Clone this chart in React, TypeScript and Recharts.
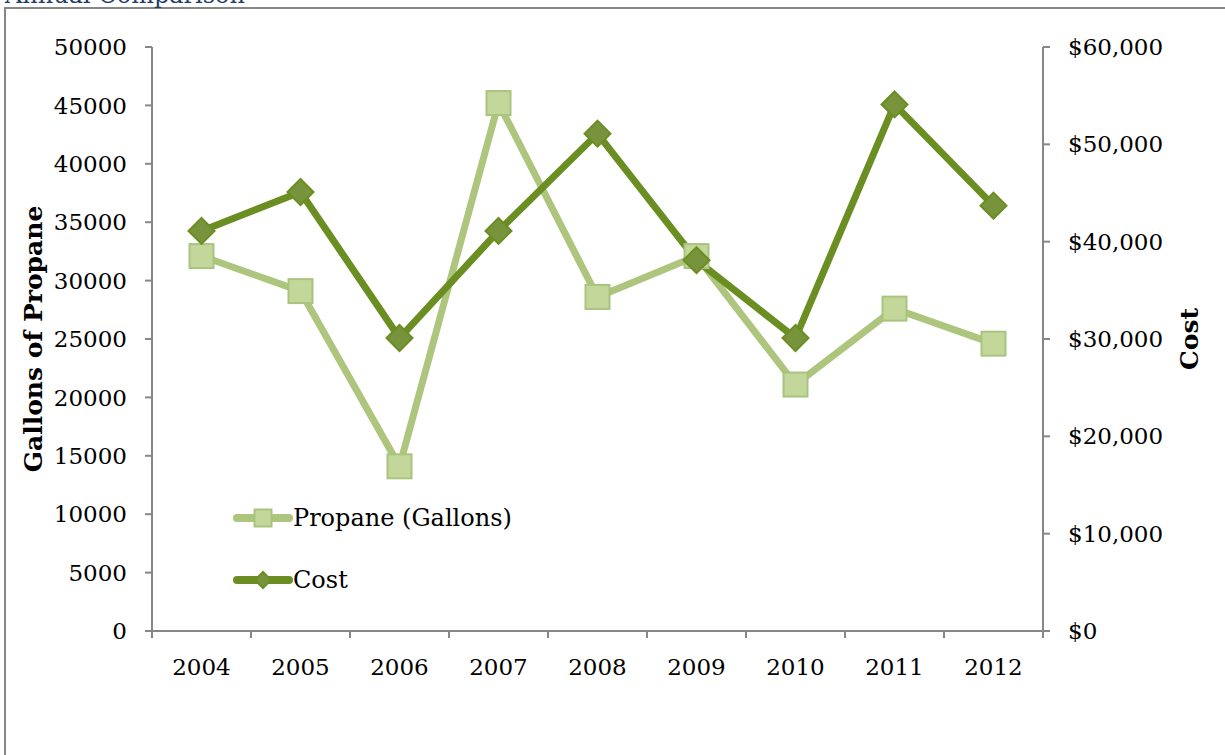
import { LineChart, Line, XAxis, YAxis, Legend } from 'recharts';

const years = ['2004', '2005', '2006', '2007', '2008', '2009', '2010', '2011', '2012'];
const propaneGallons = [32100, 29100, 14100, 45200, 28600, 32100, 21100, 27600, 24600];
const costDollars = [41100, 45100, 30100, 41100, 51100, 38100, 30100, 54100, 43700];
const gallonTicks = [0, 5000, 10000, 15000, 20000, 25000, 30000, 35000, 40000, 45000, 50000];
const costTicks = [0, 10000, 20000, 30000, 40000, 50000, 60000];
const seriesOrder = ['propane', 'cost'];

const rows = years.map((year, i) => ({
  year,
  pos: i + 0.5,
  propane: propaneGallons[i],
  cost: costDollars[i],
}));
// category boundaries (tick marks) and centres (labels)
const xTicks = years.flatMap((_, i) => [i, i + 0.5]).concat(years.length);

const FONT = '"DejaVu Serif", serif';
const AXIS = '#878787';
const LIGHT_LINE = '#adc57c';
const LIGHT_FILL = '#c4d79b';
const LIGHT_EDGE = '#a9c47f';
const DARK_LINE = '#6b8e23';
const DARK_FILL = '#77933c';

const tickStyle = { fontFamily: FONT, fontSize: 23, fill: '#000' };
const titleStyle = { fontFamily: FONT, fontSize: 25, fontWeight: 'bold', fill: '#000' };

function Square({ cx, cy, size }: { cx: number; cy: number; size: number }) {
  const h = size / 2;
  return <rect x={cx - h} y={cy - h} width={size} height={size} fill={LIGHT_FILL} stroke={LIGHT_EDGE} strokeWidth={2} />;
}

function Diamond({ cx, cy, size }: { cx: number; cy: number; size: number }) {
  const h = size / 2;
  return (
    <polygon
      points={`${cx},${cy - h} ${cx + h},${cy} ${cx},${cy + h} ${cx - h},${cy}`}
      fill={DARK_FILL}
      stroke={DARK_LINE}
      strokeWidth={2}
    />
  );
}

function YearTick({ x, y, payload }: any) {
  const v = payload.value as number;
  if (Number.isInteger(v)) {
    return <line x1={x} x2={x} y1={y} y2={y + 7} stroke={AXIS} strokeWidth={2} />;
  }
  return (
    <text x={x} y={y + 44} textAnchor="middle" style={tickStyle}>
      {years[Math.floor(v)]}
    </text>
  );
}

function LegendBox({ payload }: any) {
  const items = [...(payload || [])].sort(
    (a: any, b: any) => seriesOrder.indexOf(a.dataKey) - seriesOrder.indexOf(b.dataKey)
  );
  return (
    <div style={{ display: 'flex', flexDirection: 'column', fontFamily: FONT, fontSize: 24 }}>
      {items.map((item: any) => {
        const light = item.dataKey === 'propane';
        return (
          <div key={item.dataKey} style={{ display: 'flex', alignItems: 'center', height: 62 }}>
            <svg width={60} height={30}>
              <line x1={4} x2={56} y1={15} y2={15} stroke={light ? LIGHT_LINE : DARK_LINE} strokeWidth={8} strokeLinecap="round" />
              {light ? <Square cx={30} cy={15} size={17} /> : <Diamond cx={30} cy={15} size={16} />}
            </svg>
            <span style={{ color: '#000' }}>{item.value}</span>
          </div>
        );
      })}
    </div>
  );
}

export default function App() {
  return (
    <div style={{ position: 'absolute', left: 0, top: 0, width: 1225, height: 755, overflow: 'hidden', background: '#fff', fontFamily: FONT }}>
      <div style={{ position: 'absolute', left: 4, top: 7, width: 1300, height: 900, border: `2px solid ${AXIS}` }} />
      <div style={{ position: 'absolute', left: 5, top: -17, fontSize: 24, lineHeight: '24px', color: '#1f3f66', whiteSpace: 'nowrap' }}>
        Annual Comparison
      </div>
      <div style={{ position: 'absolute', left: 0, top: 0 }}>
        <LineChart width={1225} height={755} data={rows} margin={{ top: 47, right: 0, bottom: 0, left: 0 }}>
          <XAxis
            dataKey="pos"
            type="number"
            domain={[0, years.length]}
            ticks={xTicks}
            interval={0}
            height={124}
            tickSize={0}
            tickMargin={0}
            tickLine={false}
            tick={<YearTick />}
            axisLine={{ stroke: AXIS, strokeWidth: 2 }}
          />
          <YAxis
            yAxisId="left"
            domain={[0, 50000]}
            ticks={gallonTicks}
            interval={0}
            width={152}
            tickSize={7}
            tickMargin={18}
            tick={tickStyle}
            axisLine={{ stroke: AXIS, strokeWidth: 2 }}
            tickLine={{ stroke: AXIS, strokeWidth: 2 }}
            label={({ viewBox }: any) => {
              const cx = viewBox.x + 33;
              const cy = viewBox.y + viewBox.height / 2;
              return (
                <text x={cx} y={cy} transform={`rotate(-90 ${cx} ${cy})`} textAnchor="middle" dominantBaseline="central" style={titleStyle}>
                  Gallons of Propane
                </text>
              );
            }}
          />
          <YAxis
            yAxisId="right"
            orientation="right"
            domain={[0, 60000]}
            ticks={costTicks}
            interval={0}
            width={182}
            tickSize={7}
            tickMargin={18}
            tick={tickStyle}
            tickFormatter={(v: number) => `$${v.toLocaleString('en-US')}`}
            axisLine={{ stroke: AXIS, strokeWidth: 2 }}
            tickLine={{ stroke: AXIS, strokeWidth: 2 }}
            label={({ viewBox }: any) => {
              const cx = viewBox.x + 146;
              const cy = viewBox.y + viewBox.height / 2;
              return (
                <text x={cx} y={cy} transform={`rotate(-90 ${cx} ${cy})`} textAnchor="middle" dominantBaseline="central" style={titleStyle}>
                  Cost
                </text>
              );
            }}
          />
          <Legend
            layout="horizontal"
            align="center"
            verticalAlign="middle"
            content={<LegendBox />}
            wrapperStyle={{ left: 233, top: 487, width: 320 }}
          />
          <Line
            yAxisId="left"
            dataKey="propane"
            name="Propane (Gallons)"
            type="linear"
            stroke={LIGHT_LINE}
            strokeWidth={7}
            isAnimationActive={false}
            dot={(p: any) => <Square key={`sq-${p.index}`} cx={p.cx} cy={p.cy} size={24} />}
            activeDot={false}
          />
          <Line
            yAxisId="right"
            dataKey="cost"
            name="Cost"
            type="linear"
            stroke={DARK_LINE}
            strokeWidth={7}
            isAnimationActive={false}
            dot={(p: any) => <Diamond key={`dm-${p.index}`} cx={p.cx} cy={p.cy} size={26} />}
            activeDot={false}
          />
        </LineChart>
      </div>
    </div>
  );
}
